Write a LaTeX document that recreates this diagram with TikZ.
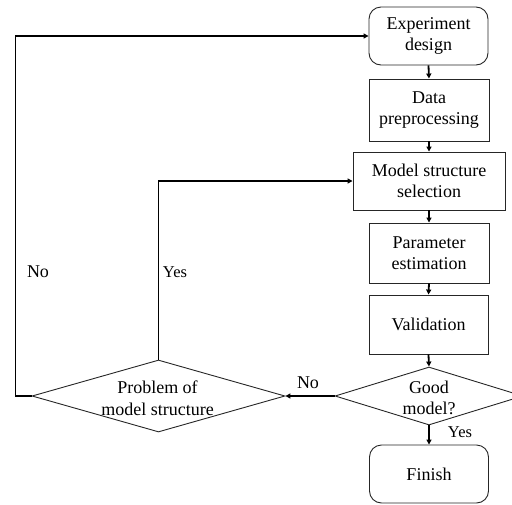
\documentclass[tikz,border=0pt]{standalone}
\usepackage{fontspec}
\setmainfont{Liberation Serif}
\usetikzlibrary{shapes.geometric,arrows.meta}

\tikzset{
  box/.style={draw=black!85, line width=0.9pt, minimum width=119pt, inner sep=0pt,
              align=center, font=\fontsize{18}{21.5}\selectfont},
  roundbox/.style={box, rounded corners=12pt},
  decision/.style={draw=black!85, line width=0.9pt, diamond, inner sep=0pt},
  dtext/.style={align=center, inner sep=0pt, font=\fontsize{18}{21.5}\selectfont},
  flow/.style={line width=1.8pt, -{Triangle[length=5pt,width=5pt]}},
  tag/.style={inner sep=0pt, font=\fontsize{18}{20}\selectfont},
  ytag/.style={inner sep=0pt, font=\fontsize{16.5}{20}\selectfont}
}

\begin{document}
\begin{tikzpicture}[x=1pt, y=-1pt]
  \useasboundingbox (0,0) rectangle (512,504);

  % main chain of steps
  \node[roundbox, minimum height=58pt] (exp)   at (428.5,36)  {Experiment\\design};
  \node[box, minimum width=120pt, minimum height=62pt] (data) at (429,110) {Data\\preprocessing};
  \node[box, minimum width=152pt, minimum height=58pt] (model) at (429,181) {Model structure\\selection};
  \node[box, minimum width=120pt, minimum height=60pt] (param) at (429,253) {Parameter\\estimation};
  \node[box, minimum height=59pt] (valid) at (428.5,324.5) {Validation};

  % decisions
  \node[decision, minimum width=188pt, minimum height=58pt] (good) at (429,396) {};
  \node[dtext] (goodtxt) at (429,398) {Good\\model?};
  \node[decision, minimum width=253pt, minimum height=72pt] (prob) at (158.5,396) {};
  \node[dtext] (probtxt) at (157.5,398) {Problem of\\model structure};

  \node[roundbox, minimum height=58pt] (fin) at (429,474) {Finish};

  % connectors
  \draw[flow] (exp.south) -- (data.north);
  \draw[flow] (data.south) -- (model.north);
  \draw[flow] (model.south) -- (param.north);
  \draw[flow] (param.south) -- (valid.north);
  \draw[flow] (valid.south) -- (good.north);
  \draw[flow] (good.south) -- (fin.north);
  \draw[flow] (good.west) -- (prob.east);
  \draw[flow] (prob.north) |- (model.west);
  \draw[flow] (prob.west) -- ++(-16,0) |- (exp.west);

  % branch labels
  \node[ytag] (yesfin) at (460,432) {Yes};
  \node[tag] (noprob) at (308,383) {No};
  \node[ytag] (yesmodel) at (175,272) {Yes};
  \node[tag] (noexp) at (38,272) {No};
\end{tikzpicture}
\end{document}
